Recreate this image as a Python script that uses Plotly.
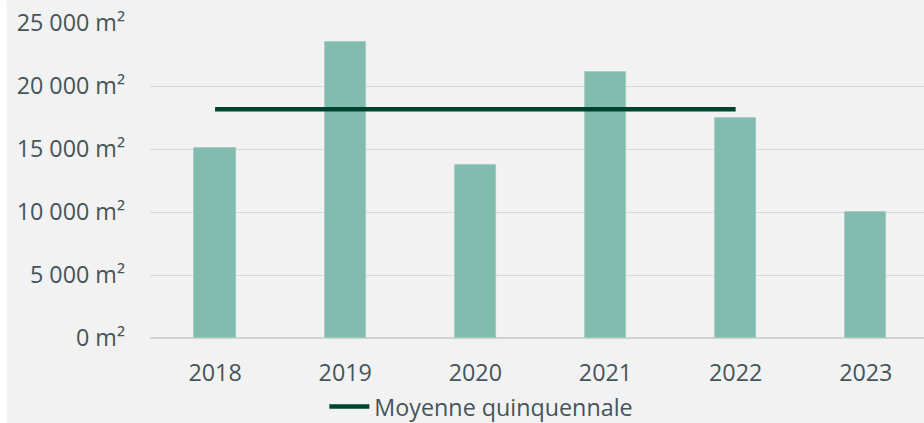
import plotly.graph_objects as go

years = ["2018", "2019", "2020", "2021", "2022", "2023"]
surface = [15070, 23470, 13700, 21090, 17440, 10010]
avg_years = ["2018", "2019", "2020", "2021", "2022"]
avg_value = [18155, 18155, 18155, 18155, 18155]
y_ticks = [0, 5000, 10000, 15000, 20000, 25000]
y_labels = ["0 m²", "5 000 m²", "10 000 m²", "15 000 m²", "20 000 m²", "25 000 m²"]

W, H = 924, 423
L, R, T, B = 150.25, 0, 22.7, 85
pw = W - L - R
ph = H - T - B

txt = "#45555a"
font = dict(family="Open Sans", size=23.3, color=txt)

fig = go.Figure()
fig.add_trace(go.Bar(
    x=years, y=surface, width=0.317,
    marker=dict(color="#82bcae", line=dict(color="#9ccabf", width=0.8)),
    showlegend=False, hoverinfo="skip",
))
fig.add_trace(go.Scatter(
    x=avg_years, y=avg_value, mode="lines",
    line=dict(color="#00432f", width=4.5),
    name="Moyenne quinquennale",
))

fig.update_layout(
    width=W, height=H,
    margin=dict(l=L, r=R, t=T, b=B, pad=0, autoexpand=False),
    paper_bgcolor="#f2f2f2", plot_bgcolor="#f2f2f2",
    font=font,
    bargap=0,
    legend=dict(orientation="h", x=(481.5 - L) / pw, xanchor="center",
                y=(338 - 407) / ph, yanchor="middle",
                bgcolor="rgba(0,0,0,0)", font=font, itemwidth=40),
    shapes=[dict(type="rect", xref="paper", yref="paper",
                 x0=-L / pw, x1=(7 - L) / pw, y0=-B / ph, y1=1 + T / ph,
                 fillcolor="white", line=dict(width=0), layer="below")],
)
fig.update_xaxes(
    type="category", range=[-0.5, -0.5 + pw / 130.1],
    showgrid=False, showline=False, zeroline=False,
    tickfont=font, ticks="", ticklabelstandoff=19,
)
fig.update_yaxes(
    range=[0, 25000], tickvals=y_ticks, ticktext=y_labels,
    showgrid=True, gridcolor="#d6dadb", gridwidth=1.3,
    zeroline=True, zerolinecolor="#d0d3d3", zerolinewidth=1.5,
    showline=False, ticks="", tickfont=font, ticklabelstandoff=24,
)

fig.write_html("out.html")
